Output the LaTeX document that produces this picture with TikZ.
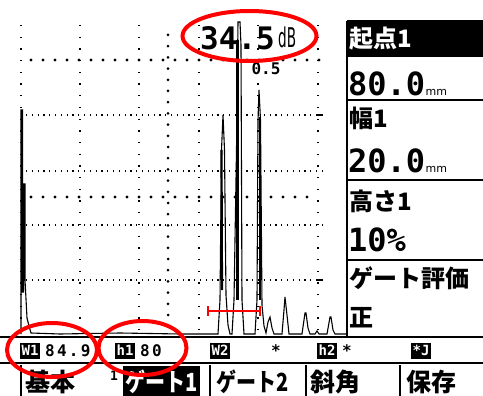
\documentclass[tikz,border=0pt]{standalone}
\usepackage{fontspec}
\newfontfamily\jp{Noto Sans CJK JP}
\newfontfamily\mono{DejaVu Sans Mono}
\newfontfamily\monowide{DejaVu Sans Mono}[LetterSpace=14]
\newfontfamily\sansf{DejaVu Sans}
\begin{document}
\begin{tikzpicture}[x=1pt,y=-1pt,
  jptext/.style={font=\jp\bfseries\fontsize{24}{24}\selectfont, inner sep=0pt, anchor=west},
  tabtext/.style={font=\jp\bfseries\fontsize{25}{25}\selectfont, inner sep=0pt},
  bignum/.style={font=\mono\bfseries\fontsize{32}{32}\selectfont, inner sep=0pt, anchor=west},
  unitsmall/.style={font=\sansf\fontsize{11}{11}\selectfont, inner sep=0pt, anchor=base west},
  statnum/.style={font=\monowide\bfseries\fontsize{16}{16}\selectfont, inner sep=0pt, anchor=west},
  invlabel/.style={fill=black, text=white, font=\mono\bfseries\fontsize{14}{14}\selectfont, inner sep=1.5pt, minimum height=16pt, anchor=west},
  redring/.style={draw=red, line width=4pt},
  sepline/.style={line width=1.6pt},
  thinsep/.style={line width=1.2pt},
  smalldots/.style={line width=1.3pt, dash pattern=on 1.3pt off 10.4pt},
  hdots/.style={line width=1.2pt, dash pattern=on 1.2pt off 4.6pt},
  wave/.style={line width=1.1pt, line join=miter}]
\useasboundingbox (0,0) rectangle (483,396);
\fill[white] (0,0) rectangle (483,396);

% ---------- grid ----------
\foreach \gx in {21,80,139,199,258,318}
  \draw[smalldots] (\gx,25) -- (\gx,330);
\foreach \gy in {115,171,225,280}
  \draw[hdots] (26,\gy) -- (322,\gy);
\foreach \gy in {115,280}
  \draw[line width=1.3pt] (317,\gy) -- (323,\gy);
\foreach \i in {0,...,24}
  \fill (31+12.0*\i,60) circle (1.6pt);
\foreach \i in {0,...,23}
  \fill (31+12.0*\i,197) circle (1.6pt);
\foreach \i in {0,...,26}
  \fill (168,35+11.2*\i) circle (1.5pt);

% ---------- waveform ----------
\draw[wave] (21,334) -- (21,110) -- (22.5,110) -- (22.5,292) -- (23.5,292) -- (23.5,184)
  -- (25,184) -- (25,280) -- (27,318) -- (29,326) -- (31,333) -- (60,334) -- (120,333)
  -- (180,334) -- (218,334)
  -- (220,300) -- (221.5,150) -- (223,115) -- (224.5,150) -- (226,295) -- (228,325) -- (230,334)
  -- (232,334) -- (234,300) -- (236.5,150) -- (238,22) -- (240,22) -- (241,45) -- (242,300) -- (244,334)
  -- (255,334) -- (257,300) -- (258,120) -- (259,90) -- (260.5,120) -- (262,305) -- (264,326)
  -- (266,333) -- (268,322) -- (270,317) -- (272,328) -- (274,334) -- (282,334) -- (284,310)
  -- (285,297) -- (287,315) -- (289,334) -- (302,334) -- (305,313) -- (306,313) -- (308,328)
  -- (310,334) -- (315,334) -- (317,331) -- (319,334) -- (327,334) -- (330,317) -- (331,317)
  -- (333,330) -- (335,334) -- (347,334);
\draw[line width=2.2pt] (221.5,150) -- (222,290);
\draw[line width=2.2pt] (237.5,40) -- (237.5,300);
\draw[line width=2pt] (259.5,117) -- (259.5,300);

% red gate
\coordinate (gl) at (208,311);
\coordinate (gr) at (260,311);
\draw[red, line width=1.8pt] (gl) -- (gr);
\draw[red, line width=1.5pt] ([yshift=-5pt]gl) -- ([yshift=5pt]gl);
\draw[red, line width=1.5pt] ([yshift=-5pt]gr) -- ([yshift=5pt]gr);

% texts on graph
\node[font=\mono\bfseries\fontsize{16}{16}\selectfont, inner sep=0pt] (half) at (266,69) {0.5};
\node[font=\mono\bfseries\fontsize{31}{31}\selectfont, inner sep=0pt, anchor=west] (gain) at (200,38) {34.5};
\node[font=\sansf\fontsize{16}{16}\selectfont, inner sep=0pt, anchor=west] (db) at (278,37) {\scalebox{0.85}[1.7]{dB}};

% ---------- right panel ----------
\fill[black] (348,22) rectangle (483,57);
\draw[thinsep] (347,21) -- (483,21);
\draw[sepline] (347,21) -- (347,337);
\foreach \dy in {100,180,260}
  \draw[thinsep] (347,\dy) -- (483,\dy);
\node[jptext, text=white] (start) at (349,39) {起点1};
\node[bignum] (startv) at (348,84) {80.0};
\node[unitsmall] (startu) at (startv.south east) [yshift=1pt] {mm};
\node[jptext] (width) at (349,118) {幅1};
\node[bignum] (widthv) at (348,161) {20.0};
\node[unitsmall] (widthu) at (widthv.south east) [yshift=1pt] {mm};
\node[jptext] (height) at (349,201) {高さ1};
\node[bignum] (heightv) at (348,240) {10\%};
\node[jptext] (eval) at (349,278) {ゲート評価};
\node[jptext] (evalv) at (349,318) {正};

% ---------- bottom bars ----------
\draw[sepline] (0,337) -- (483,337);
\draw[thinsep] (0,363) -- (483,363);
\node[invlabel] (w1) at (20,350.5) {W1};
\node[statnum] (w1v) at (45,350.5) {84.9};
\node[invlabel] (h1) at (115,350.5) {h1};
\node[statnum] (h1v) at (140,350.5) {80};
\node[invlabel] (w2) at (210,350.5) {W2};
\node[statnum] (w2v) at (271,350.5) {*};
\node[invlabel] (h2) at (317,350.5) {h2};
\node[statnum] (h2v) at (342,350.5) {*};
\node[invlabel] (mj) at (411,350.5) {*J};

\foreach \tx in {21,210,306,400}
  \draw[thinsep] (\tx,365) -- (\tx,396);
\fill[black] (123,366) rectangle (200,396);
\node[tabtext] (tabA) at (51,382) {基本};
\node[font=\mono\bfseries\fontsize{13}{13}\selectfont, inner sep=0pt] (tabnum) at (114,376) {1};
\node[tabtext, text=white] (tabB) at (162,382) {\scalebox{0.8}[1]{ゲート1}};
\node[tabtext] (tabC) at (253,382) {\scalebox{0.8}[1]{ゲート2}};
\node[tabtext] (tabD) at (335,382) {斜角};
\node[tabtext] (tabE) at (431,382) {保存};

% ---------- red rings ----------
\draw[redring] (249.5,36) ellipse [x radius=67, y radius=25];
\draw[redring] (52,350) ellipse [x radius=45, y radius=27];
\draw[redring] (142.5,348) ellipse [x radius=44, y radius=27];
\end{tikzpicture}
\end{document}
